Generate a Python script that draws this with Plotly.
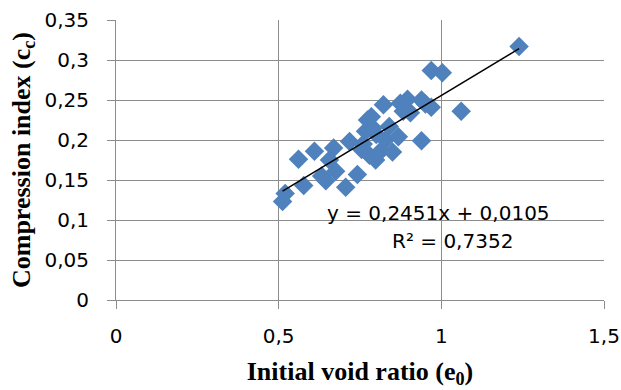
import plotly.graph_objects as go

# Initial void ratio (e0) and compression index (cc) of the tested samples
void_ratio = [0.512, 0.520, 0.561, 0.577, 0.610, 0.632, 0.645, 0.656, 0.669, 0.675,
              0.706, 0.718, 0.742, 0.755, 0.767, 0.773, 0.785, 0.779, 0.798, 0.813,
              0.822, 0.828, 0.840, 0.850, 0.868, 0.874, 0.883, 0.896, 0.905, 0.939,
              0.951, 0.939, 0.969, 0.969, 1.003, 1.061, 1.239, 0.790, 0.760, 0.800]
compression_index = [0.123, 0.133, 0.176, 0.143, 0.186, 0.155, 0.149, 0.175, 0.190, 0.161,
                     0.141, 0.198, 0.157, 0.188, 0.211, 0.225, 0.229, 0.181, 0.175, 0.186,
                     0.244, 0.200, 0.217, 0.185, 0.204, 0.246, 0.236, 0.251, 0.234, 0.250,
                     0.245, 0.199, 0.241, 0.287, 0.284, 0.236, 0.317, 0.215, 0.195, 0.207]

# Linear trend line coefficients
slope = 0.2451
intercept = 0.0105
r_squared = 0.7352

x_ticks = [0, 0.5, 1, 1.5]
x_tick_labels = ["0", "0,5", "1", "1,5"]
y_ticks = [0, 0.05, 0.1, 0.15, 0.2, 0.25, 0.3, 0.35]
y_tick_labels = ["0", "0,05", "0,1", "0,15", "0,2", "0,25", "0,3", "0,35"]

x_lo, x_hi = min(void_ratio), max(void_ratio)
trend_x = [x_lo, x_hi]
trend_y = [slope * v + intercept for v in trend_x]

fig = go.Figure()
fig.add_trace(go.Scatter(
    x=void_ratio, y=compression_index, mode="markers",
    marker=dict(symbol="diamond", size=15, color="#4F81BD", line=dict(width=0)),
    showlegend=False,
))
fig.add_trace(go.Scatter(
    x=trend_x, y=trend_y, mode="lines",
    line=dict(color="black", width=1.5), showlegend=False,
))

grid = "#8C8C8C"
tick_font = dict(family="DejaVu Sans", size=20, color="black")
title_font = dict(family="Liberation Serif", size=26, color="black")

fig.add_annotation(x=0.991, y=0.109, xref="x", yref="y",
                   text=f"y = {slope:.4f}x + {intercept:.4f}".replace(".", ","),
                   showarrow=False, font=tick_font)
fig.add_annotation(x=1.034, y=0.074, xref="x", yref="y",
                   text=f"R² = {r_squared:.4f}".replace(".", ","),
                   showarrow=False, font=tick_font)

fig.update_layout(
    width=621, height=390,
    margin=dict(l=116, r=17, t=20, b=90),
    paper_bgcolor="white", plot_bgcolor="white",
    xaxis=dict(
        range=[0, 1.5], tickvals=x_ticks, ticktext=x_tick_labels,
        showgrid=True, gridcolor=grid, gridwidth=1,
        showline=True, linecolor=grid, linewidth=1,
        ticks="outside", ticklen=8, tickcolor=grid,
        zeroline=False, tickfont=tick_font, ticklabelstandoff=10,
        automargin=False,
        title=dict(text="<b>Initial void ratio (e<sub>0</sub>)</b>", font=title_font, standoff=14),
    ),
    yaxis=dict(
        range=[0, 0.35], tickvals=y_ticks, ticktext=y_tick_labels,
        showgrid=True, gridcolor=grid, gridwidth=1,
        showline=True, linecolor=grid, linewidth=1,
        ticks="outside", ticklen=8, tickcolor=grid,
        zeroline=False, tickfont=tick_font, ticklabelstandoff=14,
        automargin=False,
        title=dict(text="<b>Compression index (c<sub>c</sub>)</b>", font=title_font, standoff=6),
    ),
)

fig.write_html("out.html")
